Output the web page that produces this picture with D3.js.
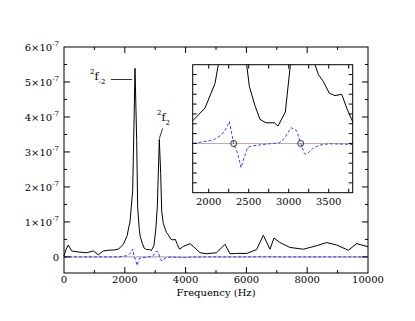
<!DOCTYPE html>
<html lang="en">
<head>
<meta charset="UTF-8">
<title>Spectrum</title>
<style>
  body { margin:0; background:#fff; }
  text { font-family:"DejaVu Serif","Liberation Serif",serif; font-size:10px; fill:#000; }
  .frame { fill:none; stroke:#000; stroke-width:1; }
  .tick { stroke:#000; stroke-width:1; }
</style>
</head>
<body>
<svg id="chart" width="415" height="321"></svg>
<script src="https://d3js.org/d3.v7.min.js"></script>
<script>
// black spectrum, values in units of 1e-7
var freq = [0,60,142,252,471,746,965,1129,1294,1458,1678,1800,1954,2079,2120,2171,2259,2303,2336,2391,2423,2475,2508,2580,2641,2716,2820,2866,2958,3021,3069,3110,3135,3181,3214,3267,3329,3371,3433,3508,3579,3662,3730,3800,3925,4145,4254,4474,4693,5022,5296,5460,5680,6009,6338,6557,6776,6908,7105,7434,7873,8311,8640,8969,9353,9627,10000];
var spectrum = [0.03,0.2,0.34,0.17,0.14,0.12,0.17,0.06,0.17,0.19,0.2,0.23,0.36,0.61,0.8,1.0,1.9,3.8,5.39,3.33,1.42,0.8,0.58,0.38,0.245,0.21,0.21,0.177,0.32,0.8,1.42,2.6,3.36,2.38,1.3,0.95,0.8,0.7,0.63,0.51,0.486,0.5,0.35,0.22,0.3,0.38,0.3,0.12,0.09,0.12,0.36,0.09,0.1,0.1,0.21,0.62,0.22,0.54,0.41,0.27,0.22,0.32,0.41,0.34,0.19,0.38,0.29];

// blue dashed difference curve, units of 1e-7
var diffFreq = [0,1800,2058,2154,2208,2258,2312,2362,2404,2446,2487,2550,2716,2883,2946,3029,3092,3112,3150,3196,3225,3300,3383,3508,3800,3950,4200,5000,5500,6300,7000,7200,10000];
var diff = [0,0,0.034,0.085,0.136,0.224,0,-0.102,-0.245,-0.137,-0.041,-0.024,-0.007,0.007,0.05,0.16,0.136,0.102,0,-0.102,-0.11,-0.051,-0.017,-0.003,-0.01,-0.02,-0.005,0.002,-0.003,0.002,0.003,0,0];

// zero crossings marked in the inset
var crossings = [2312, 3150];

var yTicks = [0,1,2,3,4,5,6];
var xTicks = [0,2000,4000,6000,8000,10000];
var insetTicks = [2000,2500,3000,3500];

var svg = d3.select('#chart');

// ---- main plot ----
var x = d3.scaleLinear().domain([0,10000]).range([64,368]);
var y = d3.scaleLinear().domain([-0.46,6]).range([273,47]);

var main = svg.append('g');

// zero line
main.append('line')
  .attr('x1', x(0)).attr('x2', x(10000))
  .attr('y1', y(0)).attr('y2', y(0))
  .attr('stroke', '#b09098').attr('stroke-width', 1);

var line = d3.line().x(function(d){return x(d[0]);}).y(function(d){return y(d[1]);});

main.append('path')
  .datum(diffFreq.map(function(f,i){return [f, diff[i]];}))
  .attr('d', line)
  .attr('fill','none').attr('stroke','#3030ff').attr('stroke-width',1)
  .attr('stroke-dasharray','3,2');

main.append('path')
  .datum(freq.map(function(f,i){return [f, spectrum[i]];}))
  .attr('d', line)
  .attr('fill','none').attr('stroke','#000').attr('stroke-width',1);

// frame
main.append('rect').attr('class','frame')
  .attr('x', x(0)).attr('y', y(6))
  .attr('width', x(10000)-x(0)).attr('height', y(-0.46)-y(6));

// x ticks (inward, mirrored on top)
d3.range(0,10001,1000).forEach(function(v){
  var len = v % 2000 === 0 ? 6 : 3;
  if (v === 0 || v === 10000) return;
  main.append('line').attr('class','tick')
    .attr('x1',x(v)).attr('x2',x(v)).attr('y1',y(-0.46)).attr('y2',y(-0.46)-len);
  main.append('line').attr('class','tick')
    .attr('x1',x(v)).attr('x2',x(v)).attr('y1',y(6)).attr('y2',y(6)+len);
});
xTicks.forEach(function(v){
  main.append('text').attr('x',x(v)).attr('y',283)
    .attr('text-anchor','middle').text(v);
});

// y ticks
d3.range(0,6.01,0.5).forEach(function(v){
  var major = Math.abs(v - Math.round(v)) < 1e-6;
  var len = major ? 6 : 3;
  if (v === 6) return;
  main.append('line').attr('class','tick')
    .attr('x1',x(0)).attr('x2',x(0)+len).attr('y1',y(v)).attr('y2',y(v));
  main.append('line').attr('class','tick')
    .attr('x1',x(10000)).attr('x2',x(10000)-len).attr('y1',y(v)).attr('y2',y(v));
});
yTicks.forEach(function(v){
  var t = main.append('text').attr('x',59).attr('y',y(v)+4).attr('text-anchor','end');
  if (v === 0) { t.text('0'); return; }
  t.append('tspan').text(v + '\u00d710');
  t.append('tspan').attr('dy',-5).style('font-size','7px').text('-7');
});

main.append('text').attr('x',216).attr('y',296).attr('text-anchor','middle').text('Frequency (Hz)');

// peak labels
function peakLabel(px, py, sub) {
  var t = main.append('text').attr('x',px).attr('y',py).style('font-size','11px');
  t.append('tspan').attr('dy',-6).style('font-size','7px').text('2');
  t.append('tspan').attr('dy',6).text('f');
  t.append('tspan').attr('dy',4).style('font-size','7px').text(sub);
}
peakLabel(90, 80, '-2');
main.append('line').attr('x1',111).attr('x2',132).attr('y1',79.5).attr('y2',79.5)
  .attr('stroke','#000').attr('stroke-width',0.8);
peakLabel(157, 121, '2');
main.append('line').attr('x1',162.7).attr('x2',159.3).attr('y1',128.3).attr('y2',138.5)
  .attr('stroke','#000').attr('stroke-width',0.8);

// ---- inset ----
var ix = d3.scaleLinear().domain([1800,3800]).range([192.7,352.7]);
var iy = d3.scaleLinear().domain([-0.5,0.8]).range([192.7,64.7]);
var inset = svg.append('g');

inset.append('rect').attr('x',ix(1800)).attr('y',iy(0.8))
  .attr('width',ix(3800)-ix(1800)).attr('height',iy(-0.5)-iy(0.8)).attr('fill','#fff');

svg.append('clipPath').attr('id','insetClip').append('rect')
  .attr('x',ix(1800)).attr('y',iy(0.8))
  .attr('width',ix(3800)-ix(1800)).attr('height',iy(-0.5)-iy(0.8));

var iline = d3.line().x(function(d){return ix(d[0]);}).y(function(d){return iy(d[1]);});
var plot = inset.append('g').attr('clip-path','url(#insetClip)');

plot.append('line')
  .attr('x1',ix(1800)).attr('x2',ix(3800)).attr('y1',iy(0)).attr('y2',iy(0))
  .attr('stroke','#c8a8a0').attr('stroke-width',1);

plot.append('path')
  .datum(diffFreq.map(function(f,i){return [f, diff[i]];}))
  .attr('d', iline)
  .attr('fill','none').attr('stroke','#4040ff').attr('stroke-width',1)
  .attr('stroke-dasharray','3,2');

plot.append('path')
  .datum(freq.map(function(f,i){return [f, spectrum[i]];}))
  .attr('d', iline)
  .attr('fill','none').attr('stroke','#000').attr('stroke-width',1);

crossings.forEach(function(f){
  plot.append('circle').attr('cx',ix(f)).attr('cy',iy(0)).attr('r',3)
    .attr('fill','none').attr('stroke','#000').attr('stroke-width',0.8);
});

inset.append('rect').attr('class','frame')
  .attr('x',ix(1800)).attr('y',iy(0.8))
  .attr('width',ix(3800)-ix(1800)).attr('height',iy(-0.5)-iy(0.8));

d3.range(2000,3800,250).forEach(function(v){
  inset.append('line').attr('class','tick')
    .attr('x1',ix(v)).attr('x2',ix(v)).attr('y1',iy(-0.5)).attr('y2',iy(-0.5)-4);
  inset.append('line').attr('class','tick')
    .attr('x1',ix(v)).attr('x2',ix(v)).attr('y1',iy(0.8)).attr('y2',iy(0.8)+4);
});
d3.range(-4,8,1).forEach(function(k){
  var v = k / 10;
  inset.append('line').attr('class','tick')
    .attr('x1',ix(1800)).attr('x2',ix(1800)+4).attr('y1',iy(v)).attr('y2',iy(v));
  inset.append('line').attr('class','tick')
    .attr('x1',ix(3800)).attr('x2',ix(3800)-4).attr('y1',iy(v)).attr('y2',iy(v));
});
insetTicks.forEach(function(v){
  inset.append('text').attr('x',ix(v)).attr('y',205)
    .attr('text-anchor','middle').text(v);
});
</script>
</body>
</html>
